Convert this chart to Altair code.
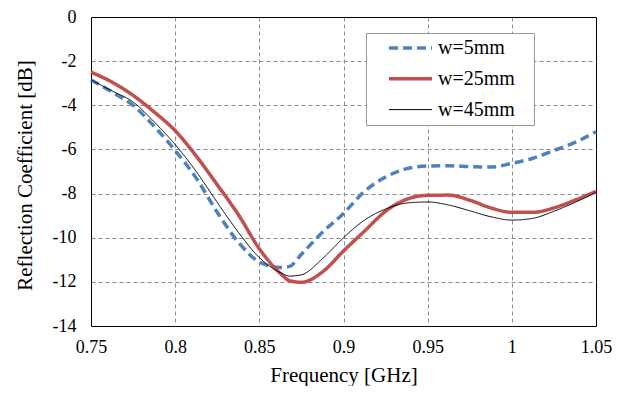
import altair as alt
import pandas as pd

freq = [0.75, 0.7625, 0.775, 0.7875, 0.8, 0.8125, 0.825, 0.8375, 0.85, 0.8625,
        0.868, 0.875, 0.8875, 0.9, 0.9125, 0.925, 0.9375, 0.95, 0.9625, 0.975,
        0.9875, 1.0, 1.0125, 1.025, 1.0375, 1.05]
w5 = [-2.85, -3.4, -4.0, -4.95, -6.05, -7.3, -8.85, -10.2, -11.1, -11.35,
      -11.3, -10.75, -9.75, -8.9, -7.9, -7.25, -6.87, -6.75, -6.74, -6.78,
      -6.8, -6.63, -6.4, -6.05, -5.68, -5.2]
w25 = [-2.5, -2.95, -3.55, -4.3, -5.15, -6.3, -7.6, -8.95, -10.5, -11.62,
       -11.95, -12.02, -11.55, -10.6, -9.7, -8.8, -8.26, -8.08, -8.07, -8.3,
       -8.65, -8.85, -8.85, -8.65, -8.3, -7.9]
w45 = [-2.85, -3.35, -3.85, -4.75, -5.78, -7.0, -8.4, -9.75, -10.9, -11.58,
       -11.74, -11.68, -10.95, -10.0, -9.2, -8.7, -8.43, -8.38, -8.52, -8.78,
       -9.05, -9.2, -9.12, -8.8, -8.4, -7.95]

series = ["w=5mm", "w=25mm", "w=45mm"]
colors = ["#4F81BD", "#C0504D", "#000000"]
dashes = [[9, 5], [1, 0], [1, 0]]
widths = [3.5, 3.5, 1.0]
x_ticks = [0.75, 0.8, 0.85, 0.9, 0.95, 1.0, 1.05]
y_ticks = [-14, -12, -10, -8, -6, -4, -2, 0]

rows = []
for name, vals in zip(series, [w5, w25, w45]):
    for f, v in zip(freq, vals):
        rows.append({"f": f, "db": v, "s": name})
df = pd.DataFrame(rows)

FONT = "Liberation Serif"

legend = alt.Legend(
    title=None, orient="none", legendX=275, legendY=16,
    symbolType="stroke", symbolSize=1849, symbolOffset=17,
    clipHeight=22, rowPadding=8.8,
    labelFont=FONT, labelFontSize=20, labelColor="black", labelOffset=4,
    labelExpr="datum.label + '\\u00a0\\u00a0\\u00a0\\u200b'",
    strokeColor="#999999", fillColor="white", padding=4,
)

chart = alt.Chart(df).mark_line(interpolate="monotone").encode(
    x=alt.X("f:Q",
            scale=alt.Scale(domain=[0.75, 1.05], nice=False, zero=False),
            axis=alt.Axis(values=x_ticks, title="Frequency [GHz]",
                          labelExpr="'' + datum.value",
                          labelFlush=False, labelOverlap=False,
                          titleX=252.5, titleY=55, titleBaseline="alphabetic",
                          labelPadding=12,
                          gridOpacity={"condition": {"test": "datum.value <= 0.75 || datum.value >= 1.05", "value": 0}, "value": 1})),
    y=alt.Y("db:Q",
            scale=alt.Scale(domain=[-14, 0], nice=False, zero=False),
            axis=alt.Axis(values=y_ticks, title="Reflection Coefficient [dB]",
                          labelExpr="'' + datum.value",
                          labelFlush=False, labelOverlap=False,
                          titleX=-66, titleY=158, titleBaseline="middle", titleAlign="center",
                          labelPadding=15,
                          gridOpacity={"condition": {"test": "datum.value <= -14 || datum.value >= 0", "value": 0}, "value": 1})),
    color=alt.Color("s:N", scale=alt.Scale(domain=series, range=colors), legend=legend),
    strokeDash=alt.StrokeDash("s:N", scale=alt.Scale(domain=series, range=dashes), legend=legend),
    strokeWidth=alt.StrokeWidth("s:N", scale=alt.Scale(type="ordinal", domain=series, range=widths), legend=legend),
).properties(
    width=505, height=309,
    autosize=alt.AutoSizeParams(type="none"),
    padding={"left": 83, "top": 9, "right": 21, "bottom": 60},
).configure_view(
    stroke="black", strokeWidth=1
).configure_axis(
    domain=False, ticks=False,
    grid=True, gridColor="#8c8c8c", gridDash=[4, 3], gridWidth=1,
    labelFont=FONT, labelFontSize=18, labelColor="black",
    titleFont=FONT, titleFontSize=21, titleColor="black", titleFontWeight="normal",
)

chart.save("out.html", embed_options={"renderer": "svg", "actions": False})
